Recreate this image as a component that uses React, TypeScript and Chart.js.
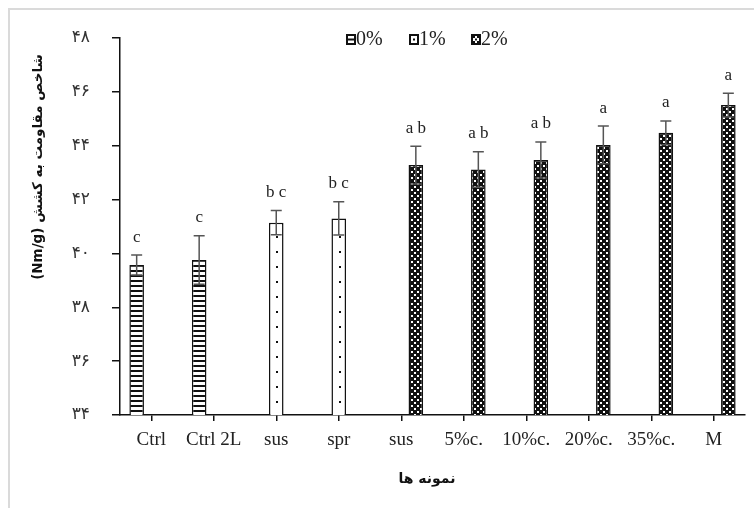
import React, { useEffect, useRef } from "react";
import { Chart, registerables } from "chart.js";
Chart.register(...registerables);

const categories = ["Ctrl", "Ctrl 2L", "sus", "spr", "sus", "5%c.", "10%c.", "20%c.", "35%c.", "M"];
const seriesNames = ["0%", "1%", "2%"];
const series0: (number | null)[] = [39.57, 39.76, null, null, null, null, null, null, null, null];
const series1: (number | null)[] = [null, null, 41.14, 41.3, null, null, null, null, null, null];
const series2: (number | null)[] = [null, null, null, null, 43.28, 43.12, 43.47, 44.03, 44.48, 45.51];
const errors = [0.37, 0.9, 0.45, 0.62, 0.7, 0.66, 0.67, 0.7, 0.44, 0.44];
const letters = ["c", "c", "b c", "b c", "a b", "a b", "a b", "a", "a", "a"];
const yMin = 34;
const yMax = 48;
const yStep = 2;
const yTitle = "(Nm/g) شاخص مقاومت به کشش";
const xTitle = "نمونه ها";

const toPersian = (n: number | string) =>
  String(n).replace(/[0-9]/g, (d) => "۰۱۲۳۴۵۶۷۸۹"[Number(d)]);

function makePattern(kind: number): CanvasPattern | string {
  const c = document.createElement("canvas");
  const g = c.getContext("2d")!;
  if (kind === 0) {
    c.width = 8; c.height = 5;
    g.fillStyle = "#fff"; g.fillRect(0, 0, 8, 5);
    g.fillStyle = "#111"; g.fillRect(0, 0, 8, 2);
  } else if (kind === 2) {
    c.width = 6; c.height = 6;
    g.fillStyle = "#111"; g.fillRect(0, 0, 6, 6);
    g.fillStyle = "#fff";
    g.fillRect(0, 0, 2, 2);
    g.fillRect(3, 3, 2, 2);
  } else {
    return "#fff";
  }
  return g.createPattern(c, "repeat")!;
}

export default function App() {
  const ref = useRef<HTMLCanvasElement>(null);
  useEffect(() => {
    document.body.style.margin = "0";
    const canvas = ref.current!;
    const decor = {
      id: "decor",
      beforeDraw(chart: any) {
        const ctx = chart.ctx;
        ctx.save();
        ctx.fillStyle = "#fff";
        ctx.fillRect(0, 0, chart.width, chart.height);
        ctx.strokeStyle = "#dadada";
        ctx.lineWidth = 2;
        ctx.strokeRect(9, 9, chart.width + 20, chart.height + 20);
        ctx.restore();
      },
      afterDatasetsDraw(chart: any) {
        const ctx = chart.ctx;
        const ys = chart.scales.y;
        const bottom = chart.chartArea.bottom;
        ctx.save();
        // dots for 1% bars
        const m1 = chart.getDatasetMeta(1);
        m1.data.forEach((el: any, i: number) => {
          if (series1[i] == null) return;
          ctx.fillStyle = "#111";
          for (let yy = bottom - 13; yy > el.y + 10; yy -= 15) {
            ctx.fillRect(Math.round(el.x), Math.round(yy) - 1, 2, 2);
          }
        });
        // error bars and letters
        [series0, series1, series2].forEach((s, di) => {
          const meta = chart.getDatasetMeta(di);
          s.forEach((v, i) => {
            if (v == null) return;
            const el = meta.data[i];
            const x = el.x;
            const yt = ys.getPixelForValue(v + errors[i]);
            const yb = ys.getPixelForValue(v - errors[i]);
            ctx.strokeStyle = "#555";
            ctx.lineWidth = 1.5;
            ctx.beginPath();
            ctx.moveTo(x, yt); ctx.lineTo(x, yb);
            ctx.moveTo(x - 5.5, yt); ctx.lineTo(x + 5.5, yt);
            ctx.moveTo(x - 5.5, yb); ctx.lineTo(x + 5.5, yb);
            ctx.stroke();
            ctx.fillStyle = "#222";
            ctx.font = "17px 'Liberation Serif'";
            ctx.textAlign = "center";
            ctx.textBaseline = "middle";
            ctx.fillText(letters[i], x, yt - 18);
          });
        });
        ctx.restore();
      },
      afterDraw(chart: any) {
        const ctx = chart.ctx;
        ctx.save();
        // y title
        ctx.translate(38, 167);
        ctx.rotate(-Math.PI / 2);
        ctx.fillStyle = "#111";
        ctx.font = "bold 13.5px 'DejaVu Sans'";
        ctx.textAlign = "center";
        ctx.textBaseline = "middle";
        ctx.direction = "ltr";
        ctx.fillText(yTitle, 0, 0);
        ctx.restore();
        ctx.save();
        ctx.fillStyle = "#111";
        ctx.font = "bold 14px 'DejaVu Sans'";
        ctx.textAlign = "center";
        ctx.textBaseline = "middle";
        ctx.fillText(xTitle, 427, 479);
        // legend
        const lx = [347, 410, 472];
        seriesNames.forEach((name, k) => {
          const bx = lx[k], by = 35;
          ctx.fillStyle = "#fff";
          ctx.fillRect(bx, by, 8, 9);
          ctx.fillStyle = "#111";
          if (k === 0) { ctx.fillRect(bx, by + 3.5, 8, 2); }
          if (k === 1) ctx.fillRect(bx + 3, by + 3.5, 2, 2);
          if (k === 2) {
            ctx.fillRect(bx + 1, by + 1, 2, 2); ctx.fillRect(bx + 5, by + 1, 2, 2);
            ctx.fillRect(bx + 3, by + 3.5, 2, 2);
            ctx.fillRect(bx + 1, by + 6, 2, 2); ctx.fillRect(bx + 5, by + 6, 2, 2);
          }
          ctx.strokeStyle = "#111";
          ctx.lineWidth = 2;
          ctx.strokeRect(bx, by, 8, 9);
          ctx.font = "20px 'Liberation Serif'";
          ctx.textAlign = "left";
          ctx.fillStyle = "#222";
          ctx.fillText(name, bx + 9, by + 5);
        });
        ctx.restore();
      },
    };
    const chart = new Chart(canvas, {
      type: "bar",
      data: {
        labels: categories,
        datasets: [series0, series1, series2].map((d, k) => ({
          label: seriesNames[k],
          data: d,
          backgroundColor: makePattern(k) as any,
          borderColor: "#111",
          borderWidth: 1.5,
          categoryPercentage: 0.7,
          barPercentage: 1.0,
        })),
      },
      options: {
        animation: false,
        responsive: false,
        devicePixelRatio: 1,
        layout: { padding: { top: 38, right: 9, left: 0, bottom: 0 } },
        plugins: { legend: { display: false }, tooltip: { enabled: false }, title: { display: false } },
        scales: {
          x: {
            afterFit: (s: any) => { s.height = 93; },
            grid: { drawOnChartArea: false, offset: false, tickLength: 6, color: "#111", lineWidth: 1.5 },
            border: { display: true, color: "#111", width: 1.5 },
            ticks: { font: { family: "'Liberation Serif'", size: 19 }, color: "#222", padding: 8, maxRotation: 0, autoSkip: false },
          },
          y: {
            min: yMin,
            max: yMax,
            afterFit: (s: any) => { s.width = 120; },
            grid: { drawOnChartArea: false, tickLength: 8, color: "#111", lineWidth: 1.5 },
            border: { display: true, color: "#111", width: 1.5 },
            ticks: {
              stepSize: yStep,
              padding: 22,
              font: { family: "'DejaVu Sans'", size: 17 },
              color: "#333",
              callback: (v: any) => toPersian(v),
            },
          },
        },
      },
      plugins: [decor],
    });
    return () => chart.destroy();
  }, []);
  return (
    <div style={{ position: "absolute", left: 0, top: 0, width: 754, height: 508 }}>
      <canvas ref={ref} width={754} height={508} style={{ width: 754, height: 508, display: "block" }} />
    </div>
  );
}
